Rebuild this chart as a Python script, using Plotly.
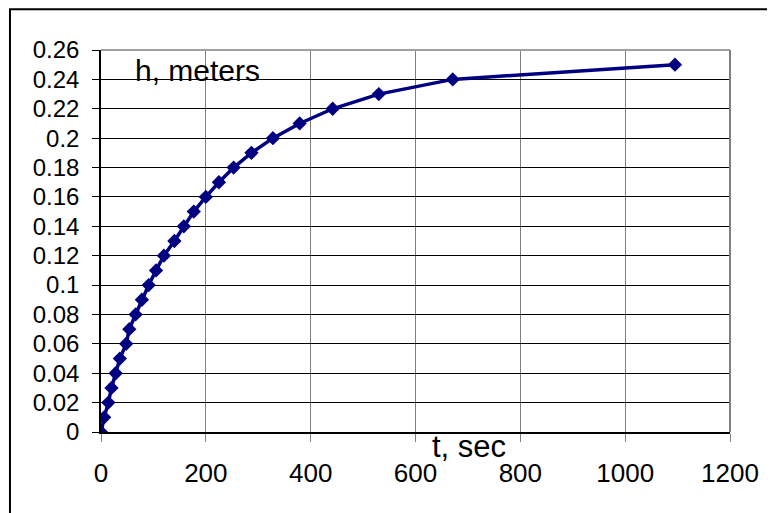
import plotly.graph_objects as go

# drain time vs. level
t_sec = [0, 6, 14, 20, 28, 36, 48, 54, 66, 78, 91, 105, 120, 140, 158, 177,
         200, 225, 253, 287, 328, 379, 442, 530, 671, 1095]
h_m = [0, 0.01, 0.02, 0.03, 0.04, 0.05, 0.06, 0.07, 0.08, 0.09, 0.1, 0.11, 0.12,
       0.13, 0.14, 0.15, 0.16, 0.17, 0.18, 0.19, 0.2, 0.21, 0.22, 0.23, 0.24, 0.25]

x_ticks = [0, 200, 400, 600, 800, 1000, 1200]
y_ticks = [0, 0.02, 0.04, 0.06, 0.08, 0.1, 0.12, 0.14, 0.16, 0.18, 0.2, 0.22, 0.24, 0.26]
y_labels = ["0", "0.02", "0.04", "0.06", "0.08", "0.1", "0.12", "0.14", "0.16",
            "0.18", "0.2", "0.22", "0.24", "0.26"]

font = "Liberation Sans, Arial, sans-serif"

fig = go.Figure()
fig.add_trace(go.Scatter(
    x=t_sec, y=h_m, mode='lines+markers',
    line=dict(color='#000080', width=3.5),
    marker=dict(symbol='diamond', size=11, color='#000080'),
    showlegend=False, hoverinfo='skip'))

# page body has an 8px margin, so the figure is 8px smaller than the window
fig.update_layout(
    width=767, height=505,
    margin=dict(l=93, r=45, t=42, b=81),
    paper_bgcolor='white', plot_bgcolor='white',
    font=dict(family=font, color='black'),
)

fig.update_xaxes(
    range=[0, 1200], tickvals=x_ticks, ticktext=[str(v) for v in x_ticks],
    showgrid=True, gridcolor='#808080', gridwidth=1,
    showline=True, linecolor='black', linewidth=1.5,
    ticks='outside', ticklen=8, tickcolor='#808080',
    ticklabelstandoff=9,
    tickfont=dict(size=26, family=font, color='black'),
    zeroline=False,
)
fig.update_yaxes(
    range=[0, 0.26], tickvals=y_ticks, ticktext=y_labels,
    showgrid=True, gridcolor='black', gridwidth=1,
    showline=True, linecolor='black', linewidth=1.5,
    ticks='outside', ticklen=7, tickcolor='black',
    ticklabelstandoff=8,
    tickfont=dict(size=24, family=font, color='black'),
    zeroline=False,
)

# grey top and right edges of the plot area
fig.add_shape(type='line', xref='paper', yref='paper', x0=0, x1=1, y0=1, y1=1,
              line=dict(color='#a0a0a0', width=2))
fig.add_shape(type='line', xref='paper', yref='paper', x0=1, x1=1, y0=0, y1=1,
              line=dict(color='#808080', width=2))

# outer chart border (cut off at right and bottom)
fig.add_shape(type='rect', xref='paper', yref='paper',
              x0=-0.1447, x1=1.09, y0=-0.235, y1=1.107,
              line=dict(color='black', width=2))

fig.add_annotation(text="h, meters", xref='paper', yref='paper',
                   x=(133 - 101) / 629, y=(432 - 70) / 382,
                   xanchor='left', yanchor='middle', showarrow=False,
                   font=dict(size=30, family=font, color='black'))
fig.add_annotation(text="t, sec", xref='paper', yref='paper',
                   x=(430 - 101) / 629, y=(432 - 446) / 382,
                   xanchor='left', yanchor='middle', showarrow=False,
                   font=dict(size=31, family=font, color='black'))

fig.write_html("out.html")
